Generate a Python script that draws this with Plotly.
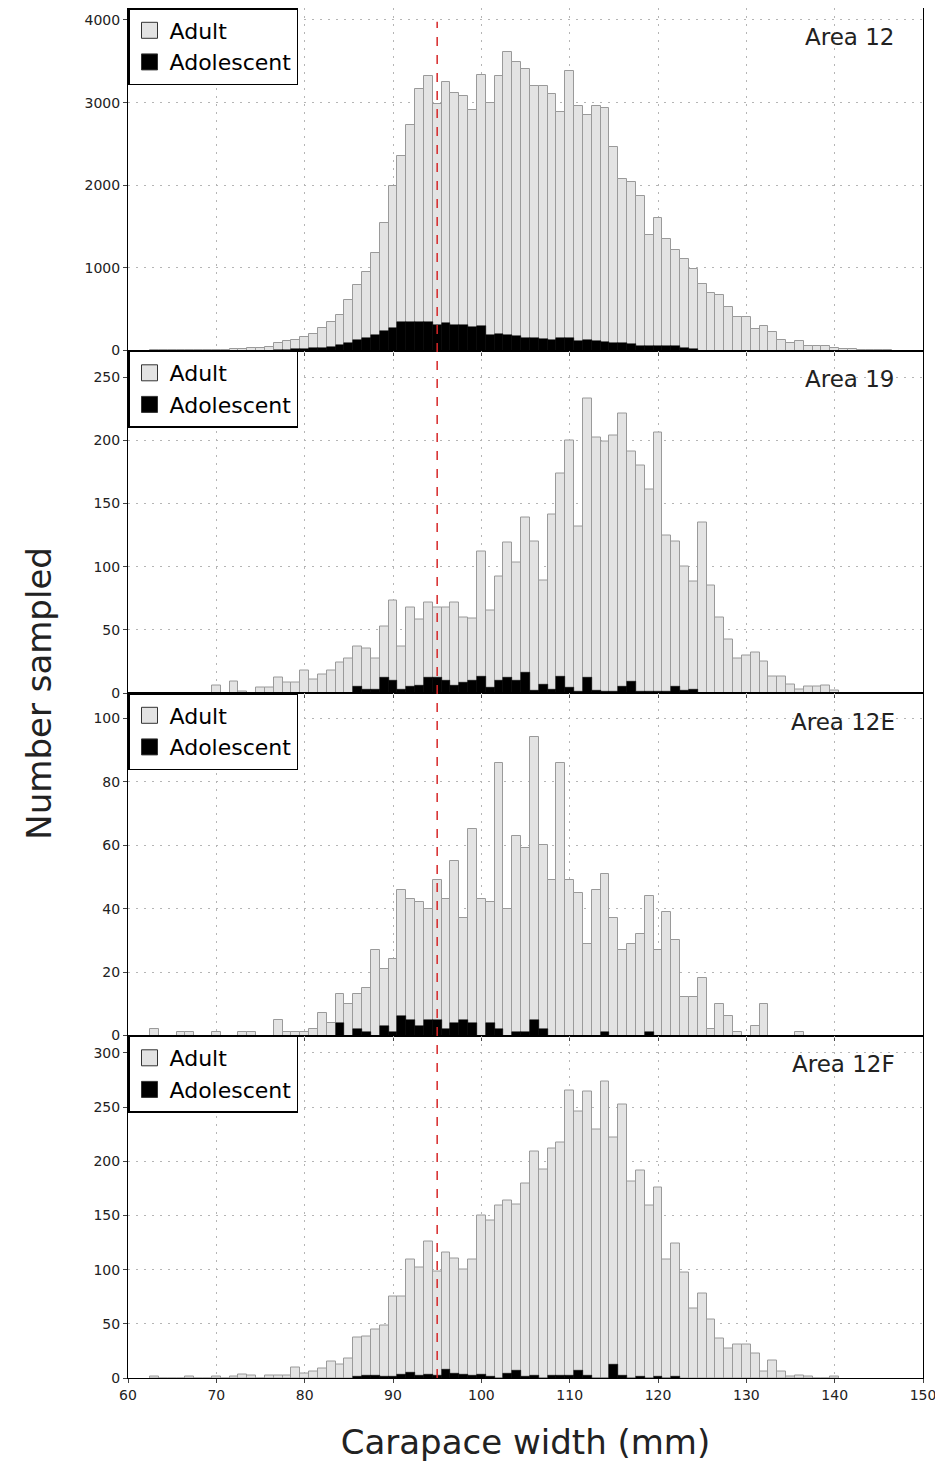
import plotly.graph_objects as go
from plotly.subplots import make_subplots

areas = ["Area 12", "Area 19", "Area 12E", "Area 12F"]

# adult counts per 1 mm bin, first bin given by *_start
adult12_start = 63
adult12 = [10, 5, 5, 5, 5, 5, 10, 10, 10, 15, 20, 25, 30, 45,
           95, 110, 130, 160, 200, 275, 340, 435, 615, 790, 950, 1180, 1545, 1995, 2350, 2730, 3160, 3320,
           2985, 3245, 3120, 3085, 2910, 3340, 3000, 3320, 3610, 3495, 3405, 3200, 3200, 3110, 2890, 3380, 2960, 2845,
           2960, 2940, 2460, 2075, 2035, 1875, 1400, 1605, 1350, 1220, 1110, 990, 810, 700, 675, 525, 405, 405,
           255, 295, 220, 130, 90, 110, 60, 60, 60, 30, 15, 15, 10, 10, 5, 5]
adol12_start = 77
adol12 = [10, 10, 15, 20, 25, 35, 45, 70, 90, 130, 150, 190, 240, 275, 340, 340, 340, 340,
          310, 330, 310, 305, 290, 300, 190, 200, 190, 175, 155, 150, 140, 130, 150, 150,
          110, 130, 120, 100, 90, 90, 80, 60, 55, 50, 50, 50, 30, 20]

adult19_start = 70
adult19 = [6, 0, 9, 1, 0, 4, 4, 12, 8, 8, 18, 11, 15, 18, 24, 27, 37, 35, 27, 53,
           73, 37, 68, 58, 72, 68, 68, 72, 60, 59, 112, 65, 92, 119, 103,
           139, 120, 89, 141, 174, 200, 132, 233, 202, 199, 204, 221, 191, 180, 161,
           206, 125, 120, 100, 88, 135, 85, 60, 42, 27, 30, 32, 25, 13, 13, 7, 3, 5, 5, 6, 2]
adol19_start = 86
adol19 = [5, 3, 3, 12, 10, 3, 5, 6, 12, 12, 10, 6, 8, 10, 13, 4, 10, 12, 10,
          16, 2, 7, 3, 13, 4, 1, 12, 2, 1, 1, 5, 9, 1, 1, 1, 1, 5, 2, 3]

adult12e_start = 63
adult12e = [2, 0, 0, 1, 1, 0, 0, 1, 0, 0, 1, 1, 0, 0, 5, 1, 1, 1, 2, 7, 4, 13, 10, 13, 15,
            27, 21, 24, 46, 43, 42, 40, 49, 43, 55, 37, 65, 43, 42, 86, 40, 63, 59, 94, 60,
            49, 86, 49, 45, 29, 46, 51, 37, 27, 29, 32, 44, 27, 39, 30, 12, 12, 18, 2, 10,
            6, 1, 0, 3, 10, 0, 0, 0, 1]
adol12e_start = 84
adol12e = [4, 0, 2, 1, 0, 3, 1, 6, 5, 3, 5, 5, 2, 4, 5, 4, 0, 4, 2, 0, 1, 1, 5, 2,
           0, 0, 0, 0, 0, 0, 1, 0, 0, 0, 0, 1]

adult12f_start = 63
adult12f = [1, 0, 0, 0, 1, 0, 0, 1, 0, 1, 3, 2, 0, 2, 2, 2, 10, 4, 6, 9, 15, 12, 18,
            37, 38, 45, 48, 75, 75, 109, 102, 126, 98, 116, 110, 100, 109, 150, 145, 159,
            164, 160, 179, 209, 192, 212, 217, 265, 246, 264, 229, 274, 222, 252, 181, 191,
            159, 176, 109, 124, 97, 64, 78, 54, 36, 27, 31, 31, 23, 6, 16, 6, 1, 2, 1, 0, 0, 1]
adol12f_start = 86
adol12f = [1, 2, 2, 1, 1, 3, 5, 2, 3, 2, 8, 4, 3, 2, 3, 1, 0, 4, 7, 1,
           2, 0, 2, 2, 2, 7, 2, 0, 0, 12, 2, 0, 1, 0, 1, 0, 1]

adults = [(adult12_start, adult12), (adult19_start, adult19), (adult12e_start, adult12e), (adult12f_start, adult12f)]
adols = [(adol12_start, adol12), (adol19_start, adol19), (adol12e_start, adol12e), (adol12f_start, adol12f)]

y_ranges = [[0, 4145], [0, 271], [0, 108], [0, 316]]
y_dticks = [1000, 50, 20, 50]
maturity_line = 95

fig = make_subplots(rows=4, cols=1, shared_xaxes=True, vertical_spacing=0)

for i in range(4):
	row = i + 1
	lg = "legend" if i == 0 else "legend%d" % row
	s, v = adults[i]
	fig.add_trace(go.Bar(x=list(range(s, s + len(v))), y=v, width=1, showlegend=False,
		marker=dict(color="#e3e3e3", line=dict(color="#9a9a9a", width=1))), row=row, col=1)
	s, v = adols[i]
	fig.add_trace(go.Bar(x=list(range(s, s + len(v))), y=v, width=1, showlegend=False,
		marker=dict(color="black", line=dict(color="black", width=0.5))), row=row, col=1)
	# legend entries with big square keys
	for nm, col in [("Adult", "#e3e3e3"), ("Adolescent", "black")]:
		fig.add_trace(go.Scatter(x=[None], y=[None], mode="markers", name=nm, legend=lg,
			marker=dict(symbol="square", size=23, color=col, line=dict(color="#333", width=1))),
			row=row, col=1)
	fig.update_yaxes(range=y_ranges[i], dtick=y_dticks[i], row=row, col=1)

	dom = fig.layout["yaxis" if i == 0 else "yaxis%d" % row].domain
	fig.update_layout({lg: dict(x=0.0, y=dom[1], xanchor="left", yanchor="top",
		bordercolor="black", borderwidth=1.5, bgcolor="white", tracegroupgap=0, itemwidth=30,
		font=dict(size=22, color="black", family="DejaVu Sans"))})
	fig.add_annotation(text=areas[i], x=0.967, y=dom[1] - 0.01, xref="paper", yref="paper",
		xanchor="right", yanchor="top", showarrow=False,
		font=dict(size=23, color="#222", family="DejaVu Sans"))

fig.add_shape(type="line", x0=maturity_line, x1=maturity_line, y0=0, y1=0.99, xref="x", yref="paper",
	line=dict(color="#d62728", width=1.5, dash="dash"))

fig.update_xaxes(range=[60, 150], dtick=10, showgrid=True, gridcolor="#b5b5b5", griddash="2px,6px",
	showline=True, linecolor="black", mirror=True, ticks="outside", ticklen=4, automargin=False,
	tickfont=dict(size=14, color="#222"), zeroline=False)
fig.update_yaxes(showgrid=True, gridcolor="#b5b5b5", griddash="2px,6px", showline=True, linecolor="black",
	mirror=True, ticks="outside", ticklen=4, tickfont=dict(size=14, color="#222"), zeroline=False,
	automargin=False)
fig.update_xaxes(title=dict(text="Carapace width (mm)", font=dict(size=34, color="#222", family="DejaVu Sans"), standoff=28),
	row=4, col=1)

fig.add_annotation(text="Number sampled", x=-0.14, y=0.5, xref="paper", yref="paper", textangle=-90,
	showarrow=False, font=dict(size=34, color="#222", family="DejaVu Sans"))

fig.update_layout(width=935, height=1471, barmode="overlay", bargap=0,
	plot_bgcolor="white", paper_bgcolor="white", showlegend=True,
	font=dict(family="DejaVu Sans"),
	margin={"l": 120, "r": 20, "t": 0, "b": 101, "autoexpand": False})

fig.write_html("out.html")
